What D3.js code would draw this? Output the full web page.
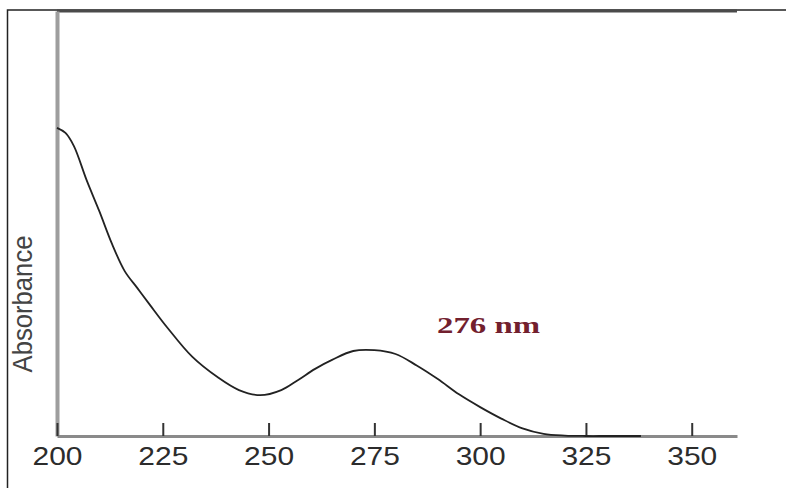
<!DOCTYPE html>
<html>
<head>
<meta charset="utf-8">
<script src="https://cdn.jsdelivr.net/npm/d3@7"></script>
<style>
	html, body { margin: 0; padding: 0; background: #fff; }
	svg { display: block; }
	.tick text { font-family: "Liberation Sans", Arial, sans-serif; fill: #2c2c2c; }
</style>
</head>
<body>
<div id="chart"></div>
<script>
	'use strict';

	// wavelength (nm) and relative absorbance
	var wavelength = [200, 202, 204, 207, 210, 213, 216, 219, 222, 226, 232, 238, 243, 248, 253, 257, 261, 265, 270, 275, 280, 285, 290, 295, 300, 305, 310, 315, 320, 325, 330, 338];
	var absorbance = [0.725, 0.713, 0.682, 0.602, 0.529, 0.452, 0.388, 0.348, 0.308, 0.256, 0.186, 0.138, 0.108, 0.096, 0.108, 0.132, 0.158, 0.179, 0.2, 0.202, 0.193, 0.166, 0.134, 0.098, 0.068, 0.041, 0.018, 0.005, 0.001, 0, 0, 0];
	var xTicks = [200, 225, 250, 275, 300, 325, 350];
	var peakLabel = "276 nm";
	var yLabel = "Absorbance";

	(function() {
		var width = 786,
			height = 488,
			margin = { top: 11, right: 737, bottom: 436, left: 57 };

		var data = wavelength.map(function(w, i) { return { w: w, a: absorbance[i] }; });

		var svg = d3.select("#chart")
			.append("svg")
			.attr("width", width)
			.attr("height", height);

		var x = d3.scaleLinear().domain([200, 360.7]).range([margin.left, margin.right]),
			y = d3.scaleLinear().domain([0, 1]).range([margin.bottom, margin.top]);

		// outer frame
		svg.append("rect")
			.attr("x", 7.5)
			.attr("y", 10)
			.attr("width", 800)
			.attr("height", 500)
			.attr("fill", "none")
			.attr("stroke", "#222")
			.attr("stroke-width", 1.5);

		// plot top edge
		svg.append("line")
			.attr("x1", margin.left)
			.attr("x2", margin.right)
			.attr("y1", margin.top)
			.attr("y2", margin.top)
			.attr("stroke", "#4a4a4a")
			.attr("stroke-width", 3);

		// left axis (line only)
		svg.append("g")
			.attr("transform", "translate(" + margin.left + ",0)")
			.call(d3.axisLeft(y).ticks(0).tickSizeOuter(0))
			.call(function(g) {
				g.select(".domain").attr("stroke", "#9e9e9e").attr("stroke-width", 4);
			});

		// bottom axis
		svg.append("g")
			.attr("transform", "translate(0," + margin.bottom + ")")
			.call(d3.axisBottom(x)
				.tickValues(xTicks)
				.tickSizeInner(-13)
				.tickSizeOuter(0)
				.tickPadding(11))
			.call(function(g) {
				g.select(".domain").attr("stroke", "#8a8a8a").attr("stroke-width", 3);
				g.selectAll(".tick line").attr("stroke", "#333").attr("stroke-width", 2);
				g.selectAll(".tick text")
					.attr("font-size", 25)
					.attr("textLength", 50)
					.attr("lengthAdjust", "spacingAndGlyphs");
			});

		svg.append("path")
			.datum(data)
			.attr("fill", "none")
			.attr("stroke", "#222")
			.attr("stroke-width", 1.8)
			.attr("d", d3.line()
				.x(function(d) { return x(d.w); })
				.y(function(d) { return y(d.a); })
				.curve(d3.curveCatmullRom.alpha(0.5)));

		svg.append("text")
			.attr("transform", "translate(32,304) scale(1.15,1) rotate(-90)")
			.attr("text-anchor", "middle")
			.attr("font-family", "Liberation Sans, Arial, sans-serif")
			.attr("font-size", 24)
			.attr("textLength", 137)
			.attr("lengthAdjust", "spacingAndGlyphs")
			.attr("fill", "#444")
			.text(yLabel);

		svg.append("text")
			.attr("x", 437)
			.attr("y", 333)
			.attr("font-family", "Liberation Serif, Times New Roman, serif")
			.attr("font-weight", "bold")
			.attr("font-size", 23)
			.attr("textLength", 103)
			.attr("lengthAdjust", "spacingAndGlyphs")
			.attr("fill", "#72202e")
			.text(peakLabel);
	})();
</script>
</body>
</html>
